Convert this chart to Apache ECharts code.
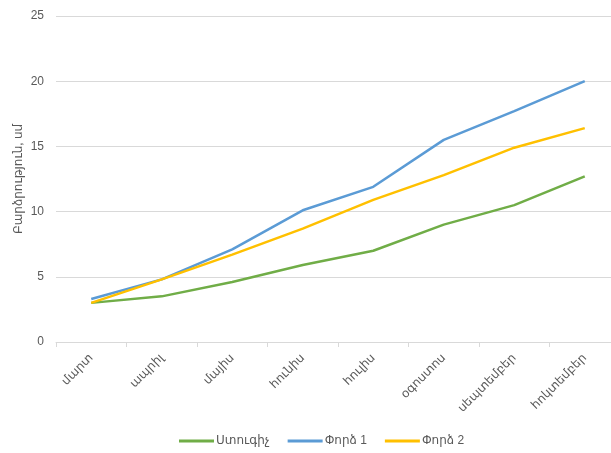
<!DOCTYPE html>
<html><head><meta charset="utf-8">
<script src="https://cdn.jsdelivr.net/npm/echarts@6/dist/echarts.min.js"></script>
<style>html,body{margin:0;padding:0;background:#fff;overflow:hidden;width:611px;height:453px}#c{width:640px;height:453px}</style>
</head><body><div id="c"></div>
<script>
const categories = ["մարտ", "ապրիլ", "մայիս", "հունիս", "հուլիս", "օգոստոս", "սեպտեմբեր", "հոկտեմբեր"];
const control = [3.0, 3.5, 4.6, 5.9, 7.0, 9.0, 10.5, 12.7];
const exp1 = [3.3, 4.8, 7.1, 10.1, 11.9, 15.5, 17.7, 20.0];
const exp2 = [3.0, 4.8, 6.7, 8.7, 10.9, 12.8, 14.9, 16.4];
const seriesNames = ["Ստուգիչ", "Փորձ 1", "Փորձ 2"];
const yAxisName = "Բարձրություն, սմ";

const FONT = "'Liberation Sans', 'DejaVu Sans', sans-serif";
const chart = echarts.init(document.getElementById('c'), null, {renderer: 'canvas'});
const mk = (name, data, color) => ({
  name, type: 'line', data, symbol: 'none', smooth: false,
  lineStyle: {color, width: 2.5}, itemStyle: {color}
});
chart.setOption({
  animation: false,
  textStyle: {fontFamily: FONT},
  grid: {left: 56, top: 16, width: 564, height: 326, containLabel: false},
  legend: {
    bottom: 1, left: 174, itemWidth: 35, itemHeight: 3, itemGap: 18,
    icon: 'rect',
    textStyle: {color: '#595959', fontSize: 12, fontFamily: FONT, padding: [0, 0, 0, -3]},
    data: seriesNames
  },
  xAxis: {
    type: 'category', data: categories, boundaryGap: true,
    axisLine: {lineStyle: {color: '#d9d9d9'}},
    axisTick: {show: true, length: 5, lineStyle: {color: '#d9d9d9'}},
    axisLabel: {rotate: 45, color: '#595959', fontSize: 12, margin: 14, interval: 0, fontFamily: FONT}
  },
  yAxis: {
    type: 'value', min: 0, max: 25, interval: 5,
    name: yAxisName, nameLocation: 'middle', nameGap: 31, nameRotate: 90,
    nameMoveOverlap: false,
    nameTextStyle: {color: '#595959', fontSize: 12, fontFamily: FONT},
    axisLine: {show: false}, axisTick: {show: false},
    axisLabel: {color: '#595959', fontSize: 12, margin: 12, fontFamily: FONT},
    splitLine: {lineStyle: {color: '#d9d9d9'}}
  },
  series: [
    mk(seriesNames[0], control, '#70AD47'),
    mk(seriesNames[1], exp1, '#5B9BD5'),
    mk(seriesNames[2], exp2, '#FFC000')
  ]
});
</script></body></html>
